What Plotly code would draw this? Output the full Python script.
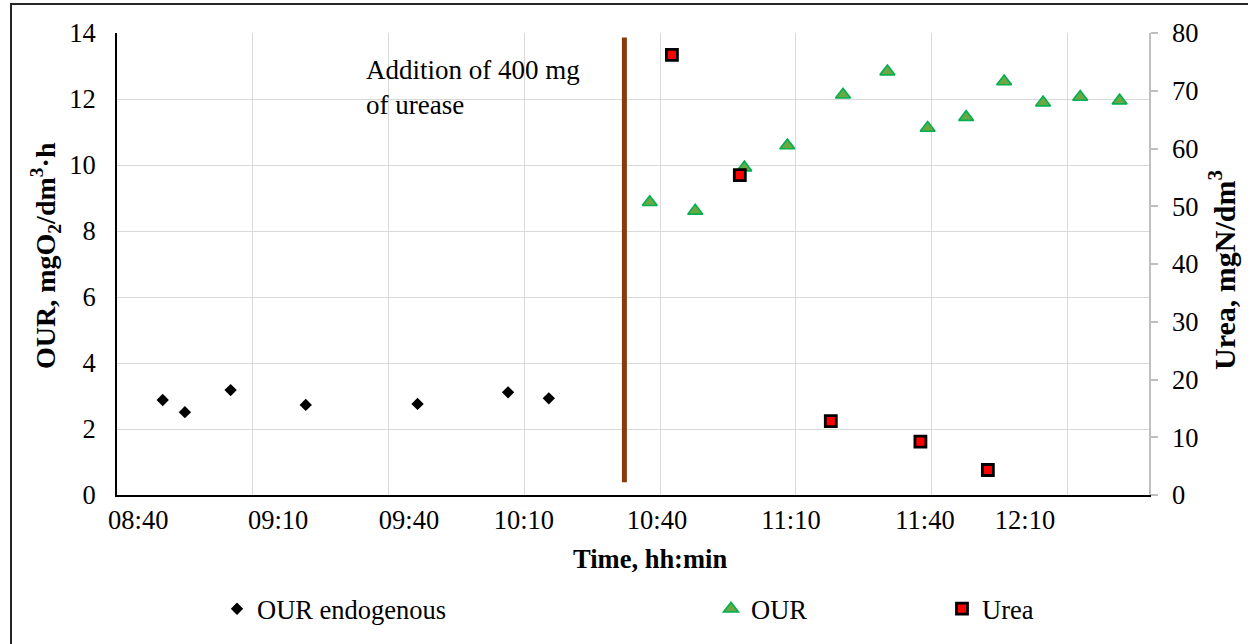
import plotly.graph_objects as go

# ---- data -------------------------------------------------------------
endo_time = ["08:50:06", "08:55:00", "09:05:06", "09:21:42", "09:46:24", "10:06:24", "10:15:24"]
endo_our = [2.88, 2.51, 3.18, 2.73, 2.76, 3.11, 2.93]

our_time = ["10:37:42", "10:47:45", "10:58:36", "11:08:06", "11:20:24", "11:30:12",
            "11:39:06", "11:47:36", "11:56:00", "12:04:36", "12:12:48", "12:21:30"]
our_val = [8.87, 8.61, 9.92, 10.59, 12.13, 12.83, 11.12, 11.45, 12.53, 11.89, 12.06, 11.95]

urea_time = ["10:42:36", "10:57:36", "11:17:42", "11:37:30", "11:52:24"]
urea_val = [76.2, 55.4, 12.8, 9.25, 4.33]

urease_addition = "10:32:06"

tick_text = ["08:40", "09:10", "09:40", "10:10", "10:40", "11:10", "11:40", "12:10"]


def to_min(t):
    parts = [float(p) for p in t.split(":")]
    while len(parts) < 3:
        parts.append(0.0)
    return parts[0] * 60 + parts[1] + parts[2] / 60


x_start = to_min("08:40")
x_end = to_min("12:28")
grid_step = 30
grid_at = [x_start + grid_step * k for k in range(int((x_end - x_start) // grid_step) + 1)]
# where the hh:mm labels sit along the time axis
tick_at = ["08:44:42", "09:15:36", "09:44:30", "10:09:54", "10:39:18", "11:08:54", "11:38:30", "12:00:36"]

SERIF = "Liberation Serif, Times New Roman, serif"

fig = go.Figure()

fig.add_trace(go.Scatter(
    x=[to_min(t) for t in endo_time], y=endo_our, mode="markers", name="OUR endogenous",
    marker=dict(symbol="diamond", size=9.5, color="black", line=dict(width=0)),
    legend="legend", yaxis="y",
))
fig.add_trace(go.Scatter(
    x=[to_min(t) for t in our_time], y=our_val, mode="markers", name="OUR",
    marker=dict(symbol="triangle-up", size=13, color="#6AA843",
                line=dict(width=1.6, color="#00B050")),
    legend="legend2", yaxis="y",
))
fig.add_trace(go.Scatter(
    x=[to_min(t) for t in urea_time], y=urea_val, mode="markers", name="Urea",
    marker=dict(symbol="square", size=11, color="#FF0000",
                line=dict(width=2.8, color="black")),
    legend="legend3", yaxis="y2",
))

tick_font = dict(family=SERIF, size=26.5, color="black")
legend_font = dict(family=SERIF, size=26.5, color="black")
legend_y = 1 - 609 / 644

fig.update_layout(
    width=1248, height=644,
    margin=dict(l=117, r=99, t=33, b=149, autoexpand=False),
    paper_bgcolor="white", plot_bgcolor="white",
    showlegend=True,
    xaxis=dict(
        range=[x_start, x_end],
        tickmode="array", tickvals=[to_min(t) for t in tick_at], ticktext=tick_text,
        tickfont=tick_font, showgrid=False,
        minor=dict(tickmode="array", tickvals=grid_at, showgrid=True,
                   gridcolor="#D9D9D9", gridwidth=1.3, ticks=""),
        showline=True, linecolor="black", linewidth=1.8, ticks="", zeroline=False,
    ),
    yaxis=dict(
        range=[0, 14], dtick=2, showgrid=True, gridcolor="#D9D9D9", gridwidth=1.3,
        showline=True, linecolor="black", linewidth=1.8, ticks="", zeroline=False,
        tickfont=tick_font, ticklabelstandoff=14,
    ),
    yaxis2=dict(
        overlaying="y", side="right", anchor="x", range=[0, 80], dtick=10,
        showgrid=False, showline=True, linecolor="#BFBFBF", linewidth=1.5,
        ticks="outside", ticklen=7, tickcolor="#BFBFBF", tickwidth=1.5, zeroline=False,
        tickfont=tick_font, ticklabelstandoff=9,
    ),
    legend=dict(x=217 / 1248, y=legend_y, xref="container", yref="container",
                xanchor="left", yanchor="middle", font=legend_font, bgcolor="rgba(0,0,0,0)"),
    legend2=dict(x=711 / 1248, y=legend_y, xref="container", yref="container",
                 xanchor="left", yanchor="middle", font=legend_font, bgcolor="rgba(0,0,0,0)"),
    legend3=dict(x=942 / 1248, y=legend_y, xref="container", yref="container",
                 xanchor="left", yanchor="middle", font=legend_font, bgcolor="rgba(0,0,0,0)"),
)

# axis titles
fig.add_annotation(
    text="<b>Time, hh:min</b>", xref="paper", yref="paper",
    x=(650 - 117) / 1032, y=(495 - 559) / 462, xanchor="center", yanchor="middle",
    showarrow=False, font=dict(family=SERIF, size=26.5, color="black"),
)
fig.add_annotation(
    text="<b>OUR, mgO<sub>2</sub>/dm<sup>3</sup>·h</b>", xref="paper", yref="paper",
    x=(45 - 117) / 1032, y=(495 - 256) / 462, xanchor="center", yanchor="middle",
    textangle=-90, showarrow=False, font=dict(family=SERIF, size=28, color="black"),
)
fig.add_annotation(
    text="<b>Urea, mgN/dm<sup>3</sup></b>", xref="paper", yref="paper",
    x=(1222 - 117) / 1032, y=(495 - 270) / 462, xanchor="center", yanchor="middle",
    textangle=-90, showarrow=False, font=dict(family=SERIF, size=30, color="black"),
)

# urease dosing marker
fig.add_shape(
    type="line", xref="x", yref="y",
    x0=to_min(urease_addition), x1=to_min(urease_addition), y0=0.39, y1=13.86,
    line=dict(color="#843C0C", width=5),
)
fig.add_annotation(
    text="Addition of 400 mg<br>of urease", xref="x", yref="y",
    x=to_min("09:34:30"), y=12.36, xanchor="left", yanchor="middle", align="left",
    showarrow=False, font=dict(family=SERIF, size=27, color="black"),
)

# chart frame
fig.add_shape(
    type="rect", xref="paper", yref="paper",
    x0=(11 - 117) / 1032, x1=1.3, y0=-0.5, y1=(495 - 4) / 462,
    line=dict(color="#262626", width=2), fillcolor="rgba(0,0,0,0)", layer="below",
)

fig.write_html("out.html")
